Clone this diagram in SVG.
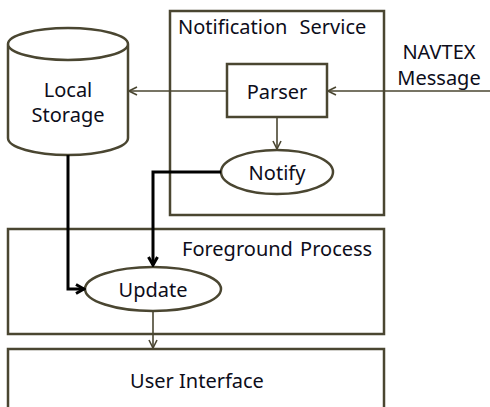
<svg xmlns="http://www.w3.org/2000/svg" width="490" height="407" viewBox="0 0 490 407">
<style>
.box{fill:#fff;stroke:#4a4631;stroke-width:2.5}
.shape{fill:#fff;stroke:#4a4631;stroke-width:2.5}
.t{font-family:"Noto Sans","Noto Sans CJK KR",sans-serif;font-size:20px;fill:#0d0d1a}
.thin{fill:none;stroke:#4a4631;stroke-width:1.6}
.thick{fill:none;stroke:#000;stroke-width:3}
</style>
<defs>
<marker id="a" markerWidth="10" markerHeight="10" refX="9" refY="5" orient="auto" markerUnits="userSpaceOnUse">
<path d="M1,1 L9,5 L1,9" fill="none" stroke="#4a4631" stroke-width="1.6"/>
</marker>
<marker id="b" markerWidth="12" markerHeight="12" refX="10" refY="6" orient="auto" markerUnits="userSpaceOnUse">
<path d="M2,1.5 L10,6 L2,10.5" fill="none" stroke="#000" stroke-width="3"/>
</marker>
</defs>
<g id="notification-service">
<rect class="box" x="170" y="11" width="214" height="204"/>
<text class="t" x="178" y="34" word-spacing="7">Notification Service</text>
</g>
<g id="foreground-process">
<rect class="box" x="8" y="229" width="376" height="105"/>
<text class="t" x="182" y="256" word-spacing="2">Foreground Process</text>
</g>
<g id="user-interface">
<rect class="box" x="8" y="349" width="376" height="70"/>
<text class="t" x="197" y="388" text-anchor="middle">User Interface</text>
</g>
<g id="local-storage">
<path class="shape" d="M8,44 L8,138 A60,17 0 0 0 128,138 L128,44 A60,16 0 0 0 8,44 A60,16 0 0 0 128,44"/>
<text class="t" x="68" y="97" text-anchor="middle">Local</text>
<text class="t" x="68" y="122" text-anchor="middle">Storage</text>
</g>
<g id="parser">
<rect class="box" x="227" y="64" width="100" height="53"/>
<text class="t" x="277" y="99" text-anchor="middle">Parser</text>
</g>
<g id="notify">
<ellipse class="shape" cx="277" cy="172" rx="56" ry="22"/>
<text class="t" x="277" y="180" text-anchor="middle">Notify</text>
</g>
<g id="update">
<ellipse class="shape" cx="153" cy="289" rx="68" ry="22"/>
<text class="t" x="153" y="297" text-anchor="middle">Update</text>
</g>
<g id="navtex">
<text class="t" x="439" y="59" text-anchor="middle">NAVTEX</text>
<text class="t" x="439" y="85" text-anchor="middle">Message</text>
</g>
<g id="connectors">
<line class="thin" x1="490" y1="91" x2="328" y2="91" marker-end="url(#a)"/>
<line class="thin" x1="227" y1="91" x2="129" y2="91" marker-end="url(#a)"/>
<line class="thin" x1="277" y1="117" x2="277" y2="149" marker-end="url(#a)"/>
<line class="thin" x1="153" y1="311" x2="153" y2="348" marker-end="url(#a)"/>
<path class="thick" d="M221,172 L153,172 L153,265" marker-end="url(#b)"/>
<path class="thick" d="M68,155 L68,289 L84,289" marker-end="url(#b)"/>
</g>
</svg>
